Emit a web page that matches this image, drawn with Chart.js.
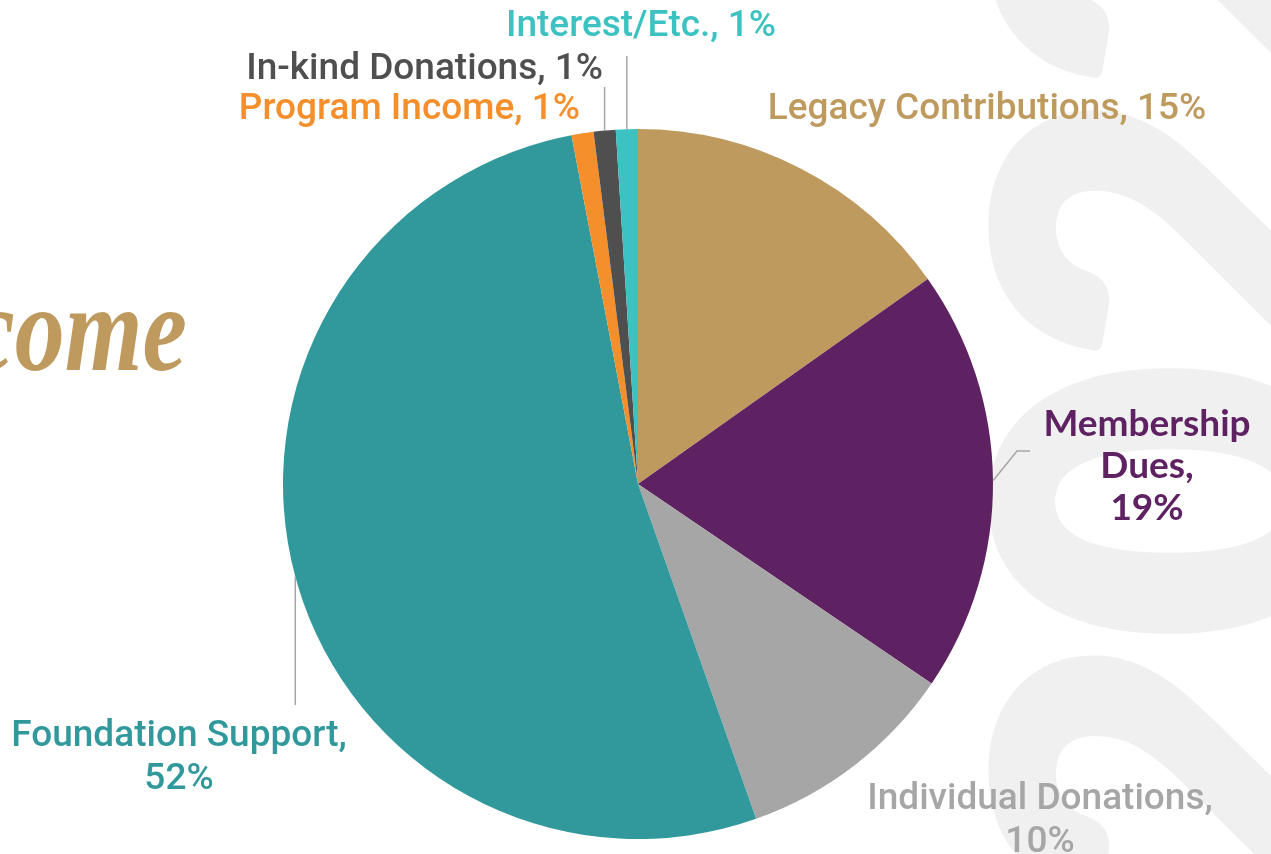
<!DOCTYPE html>
<html>
<head>
<meta charset="utf-8">
<script src="https://cdn.jsdelivr.net/npm/chart.js@4.4.1/dist/chart.umd.min.js"></script>
<style>
  html, body { margin: 0; padding: 0; background: #fff; overflow: hidden; }
  canvas { display: block; }
</style>
</head>
<body>
<canvas id="incomeChart" width="1271" height="854"></canvas>
<script>
// Income sources (percent of total)
var categories = ["Legacy Contributions", "Membership Dues", "Individual Donations", "Foundation Support", "Program Income", "In-kind Donations", "Interest/Etc."];
var shares = [15.2, 19.3, 10.1, 52.4, 1.0, 1.0, 1.0];
var sliceColors = ["#BF9A5E", "#5E2161", "#A6A6A6", "#31999B", "#F58F2B", "#4F4F4F", "#3DC2C2"];

// where each label sits, and how its leader line goes
var labelSpots = [
  { lines: 1, x: 987, y: 119, align: "center", font: "500 37px Roboto", color: "#BF9A5E" },
  { lines: 3, x: 1147, y: 436, align: "center", font: "bold 37px Lato", color: "#5E2161", leader: "elbow", elbow: [1017, 451, 1030, 451] },
  { lines: 2, x: 1040, y: 809, align: "center", font: "500 37px Roboto", color: "#A6A6A6" },
  { lines: 2, x: 179, y: 746, align: "center", font: "500 37px Roboto", color: "#31999B", leader: "down", endY: 705 },
  { lines: 1, x: 580, y: 119, align: "right", font: "500 37px Roboto", color: "#F58F2B" },
  { lines: 1, x: 603, y: 79, align: "right", font: "500 37px Roboto", color: "#4F4F4F", leader: "up", endY: 87 },
  { lines: 1, x: 641, y: 36, align: "center", font: "500 37px Roboto", color: "#3DC2C2", leader: "up", endY: 56 }
];

function labelLines(i, n) {
  var pct = Math.round(shares[i]) + "%";
  var name = categories[i];
  if (n === 1) return [name + ", " + pct];
  if (n === 2) return [name + ",", pct];
  var words = name.split(" ");
  return [words[0], words.slice(1).join(" ") + ",", pct];
}

// page decoration behind the pie: big faded year + script title
var backdrop = {
  id: "backdrop",
  beforeDraw: function (chart) {
    var c = chart.ctx;
    c.save();
    c.fillStyle = "#fff";
    c.fillRect(0, 0, chart.width, chart.height);

    c.save();
    c.translate(1340, 910);
    c.rotate(-Math.PI / 2);
    c.font = "900 470px Lato";
    c.fillStyle = "#F0F0F0";
    c.strokeStyle = "#F0F0F0";
    c.lineWidth = 14;
    c.lineJoin = "round";
    c.textAlign = "left";
    c.textBaseline = "alphabetic";
    c.fillText("2022", 0, 0);
    c.strokeText("2022", 0, 0);
    c.restore();

    c.save();
    c.translate(187, 370);
    c.scale(0.82, 1);
    c.font = "italic bold 122px 'Liberation Serif'";
    c.fillStyle = "#BF9A5E";
    c.textAlign = "right";
    c.fillText("Income", 0, 0);
    c.restore();
    c.restore();
  }
};

var sliceLabels = {
  id: "sliceLabels",
  afterDatasetsDraw: function (chart) {
    var c = chart.ctx;
    var arcs = chart.getDatasetMeta(0).data;
    c.save();
    labelSpots.forEach(function (s, i) {
      var a = arcs[i];
      var mid = (a.startAngle + a.endAngle) / 2;
      var px = a.x + Math.cos(mid) * a.outerRadius;
      var py = a.y + Math.sin(mid) * a.outerRadius;
      c.strokeStyle = "#A6A6A6";
      c.lineWidth = 1.5;
      if (s.leader === "up" || s.leader === "down") {
        c.beginPath();
        c.moveTo(px, py);
        c.lineTo(px, s.endY);
        c.stroke();
      } else if (s.leader === "elbow") {
        c.beginPath();
        c.moveTo(px, py);
        c.lineTo(s.elbow[0], s.elbow[1]);
        c.lineTo(s.elbow[2], s.elbow[3]);
        c.stroke();
      }
      c.font = s.font;
      c.fillStyle = s.color;
      c.textAlign = s.align;
      c.textBaseline = "alphabetic";
      var lines = labelLines(i, s.lines);
      var lh = s.lines === 3 ? 42 : 43;
      lines.forEach(function (t, k) {
        c.fillText(t, s.x, s.y + k * lh);
      });
    });
    c.restore();
  }
};

var ctx = document.getElementById("incomeChart").getContext("2d");
var incomeChart = new Chart(ctx, {
  type: "pie",
  data: {
    labels: categories,
    datasets: [
      {
        data: shares,
        backgroundColor: sliceColors,
        borderWidth: 0,
      },
    ],
  },
  options: {
    responsive: false,
    animation: false,
    layout: { padding: { left: 283, right: 278, top: 129, bottom: 15 } },
    plugins: {
      legend: { display: false },
      tooltip: { enabled: false },
    },
  },
  plugins: [backdrop, sliceLabels],
});
</script>
</body>
</html>
